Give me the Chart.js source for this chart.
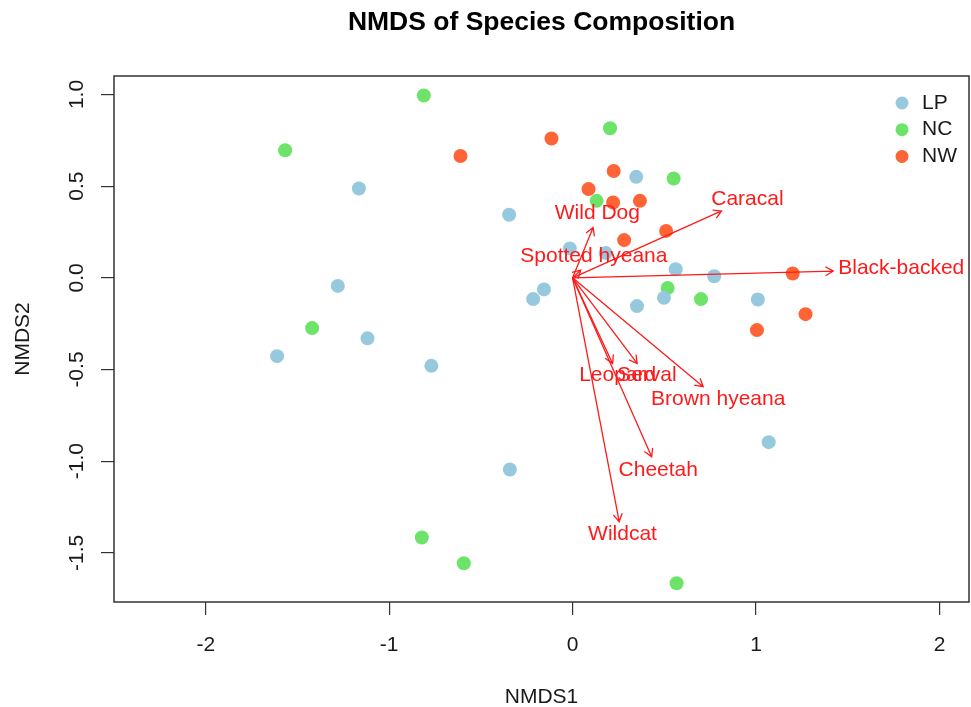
<!DOCTYPE html>
<html>
<head>
<meta charset="utf-8">
<title>NMDS of Species Composition</title>
<script src="https://cdn.jsdelivr.net/npm/chart.js@4.4.1/dist/chart.umd.min.js"></script>
<style>
  html, body { margin: 0; padding: 0; background: #fff; }
  #nmds { display: block; }
</style>
</head>
<body>
<canvas id="nmds" width="971" height="707"></canvas>
<script>
// ---------- Site scores (NMDS1 / NMDS2) ----------
const groupNames = ['LP', 'NC', 'NW'];
const groupColors = ['#97C9DE', '#6DE36A', '#FF6436'];

const lpX = [-1.165, -0.346, 0.347, -0.015, 0.180, 0.562, 0.772, -0.156, -0.215, 0.498, 0.351, 1.010, -1.280, -1.118, -1.611, -0.770, -0.342, 1.069];
const lpY = [0.487, 0.344, 0.551, 0.160, 0.136, 0.047, 0.009, -0.063, -0.116, -0.109, -0.154, -0.118, -0.044, -0.330, -0.427, -0.480, -1.045, -0.896];

const ncX = [-0.811, 0.204, 0.551, 0.131, 0.518, 0.700, -1.567, -1.420, -0.822, -0.593, 0.567];
const ncY = [0.995, 0.816, 0.542, 0.420, -0.055, -0.116, 0.696, -0.274, -1.416, -1.557, -1.666];

const nwX = [-0.115, -0.611, 0.224, 0.087, 0.221, 0.367, 0.510, 0.281, 1.200, 1.270, 1.005];
const nwY = [0.760, 0.665, 0.583, 0.484, 0.411, 0.420, 0.256, 0.206, 0.024, -0.198, -0.285];

// ---------- Species vectors (envfit) ----------
const species = ['Wild Dog', 'Spotted hyeana', 'Caracal', 'Black-backed jackal', 'Leopard', 'Serval', 'Brown hyeana', 'Cheetah', 'Wildcat'];
const vecX = [0.112, 0.044, 0.812, 1.421, 0.218, 0.352, 0.712, 0.431, 0.254];
const vecY = [0.275, 0.042, 0.365, 0.037, -0.467, -0.467, -0.594, -0.976, -1.330];
const labX = [0.135, 0.116, 0.953, 1.954, 0.246, 0.405, 0.794, 0.467, 0.272];
const labY = [0.351, 0.120, 0.427, 0.051, -0.531, -0.531, -0.661, -1.049, -1.398];

// ---------- Axes ----------
const xTicks = [-2, -1, 0, 1, 2];
const xTickLabels = ['-2', '-1', '0', '1', '2'];
const yTicks = [-1.5, -1, -0.5, 0, 0.5, 1];
const yTickLabels = ['-1.5', '-1.0', '-0.5', '0.0', '0.5', '1.0'];

const FONT = '"Liberation Sans", Arial, Helvetica, sans-serif';
const INK = '#1a1a1a';

function toPoints(xs, ys) {
  return xs.map((x, i) => ({ x, y: ys[i] }));
}

// R-style decorations: box, tick labels, titles, vectors, legend
const nmdsDecor = {
  id: 'nmdsDecor',
  afterDatasetsDraw(chart) {
    const { ctx, chartArea: area, scales: { x, y } } = chart;
    const cx = (area.left + area.right) / 2;
    const cy = (area.top + area.bottom) / 2;

    // species arrows
    ctx.save();
    ctx.beginPath();
    ctx.rect(area.left, area.top, area.right - area.left, area.bottom - area.top);
    ctx.clip();
    const ox = x.getPixelForValue(0);
    const oy = y.getPixelForValue(0);
    ctx.strokeStyle = '#FF1A1A';
    ctx.lineWidth = 1.3;
    species.forEach((name, i) => {
      const tx = x.getPixelForValue(vecX[i]);
      const ty = y.getPixelForValue(vecY[i]);
      const ang = Math.atan2(ty - oy, tx - ox);
      const head = 9;
      ctx.beginPath();
      ctx.moveTo(ox, oy);
      ctx.lineTo(tx, ty);
      ctx.moveTo(tx - head * Math.cos(ang - Math.PI / 6), ty - head * Math.sin(ang - Math.PI / 6));
      ctx.lineTo(tx, ty);
      ctx.lineTo(tx - head * Math.cos(ang + Math.PI / 6), ty - head * Math.sin(ang + Math.PI / 6));
      ctx.stroke();
    });
    ctx.fillStyle = '#FF1A1A';
    ctx.font = '21px ' + FONT;
    ctx.textAlign = 'center';
    ctx.textBaseline = 'middle';
    species.forEach((name, i) => {
      ctx.fillText(name, x.getPixelForValue(labX[i]), y.getPixelForValue(labY[i]));
    });
    ctx.restore();

    ctx.save();
    // plot box
    ctx.strokeStyle = '#333';
    ctx.lineWidth = 1.5;
    ctx.strokeRect(area.left, area.top, area.right - area.left, area.bottom - area.top);

    // tick labels
    ctx.fillStyle = INK;
    ctx.font = '21px ' + FONT;
    ctx.textAlign = 'center';
    ctx.textBaseline = 'middle';
    xTicks.forEach((v, i) => {
      ctx.fillText(xTickLabels[i], x.getPixelForValue(v), area.bottom + 43);
    });
    yTicks.forEach((v, i) => {
      ctx.save();
      ctx.translate(area.left - 37, y.getPixelForValue(v));
      ctx.rotate(-Math.PI / 2);
      ctx.fillText(yTickLabels[i], 0, 0);
      ctx.restore();
    });

    // axis titles
    ctx.fillText('NMDS1', cx, area.bottom + 95);
    ctx.save();
    ctx.translate(23, cy);
    ctx.rotate(-Math.PI / 2);
    ctx.fillText('NMDS2', 0, 0);
    ctx.restore();

    // main title
    ctx.font = 'bold 26.5px ' + FONT;
    ctx.fillStyle = '#000';
    ctx.fillText('NMDS of Species Composition', cx, 23);

    // legend (top right, no frame)
    ctx.font = '21px ' + FONT;
    ctx.textAlign = 'left';
    groupNames.forEach((g, i) => {
      const ly = area.top + 27 + i * 26.7;
      ctx.fillStyle = groupColors[i];
      ctx.beginPath();
      ctx.arc(area.right - 67, ly, 6.5, 0, Math.PI * 2);
      ctx.fill();
      ctx.fillStyle = INK;
      ctx.fillText(g, area.right - 47, ly);
    });
    ctx.restore();
  }
};

const ctx = document.getElementById('nmds').getContext('2d');

new Chart(ctx, {
  type: 'scatter',
  data: {
    datasets: [
      { label: 'LP', data: toPoints(lpX, lpY), backgroundColor: groupColors[0] },
      { label: 'NC', data: toPoints(ncX, ncY), backgroundColor: groupColors[1] },
      { label: 'NW', data: toPoints(nwX, nwY), backgroundColor: groupColors[2] }
    ]
  },
  options: {
    responsive: false,
    animation: false,
    devicePixelRatio: 1,
    layout: { autoPadding: false, padding: { top: 76, right: 2, left: 0, bottom: 0 } },
    elements: {
      point: { radius: 7, borderWidth: 0, hoverRadius: 7 }
    },
    plugins: {
      legend: { display: false },
      title: { display: false },
      tooltip: { enabled: false }
    },
    scales: {
      x: {
        type: 'linear',
        min: -2.5,
        max: 2.161,
        afterBuildTicks: (scale) => { scale.ticks = xTicks.map(v => ({ value: v })); },
        afterFit: (scale) => { scale.height = 105; },
        ticks: { display: false },
        border: { display: false },
        grid: { drawOnChartArea: false, drawTicks: true, tickLength: 13, color: '#333', lineWidth: 1.2 }
      },
      y: {
        type: 'linear',
        min: -1.768,
        max: 1.101,
        afterBuildTicks: (scale) => { scale.ticks = yTicks.map(v => ({ value: v })); },
        afterFit: (scale) => { scale.width = 114; },
        ticks: { display: false },
        border: { display: false },
        grid: { drawOnChartArea: false, drawTicks: true, tickLength: 13, color: '#333', lineWidth: 1.2 }
      }
    }
  },
  plugins: [nmdsDecor]
});
</script>
</body>
</html>
